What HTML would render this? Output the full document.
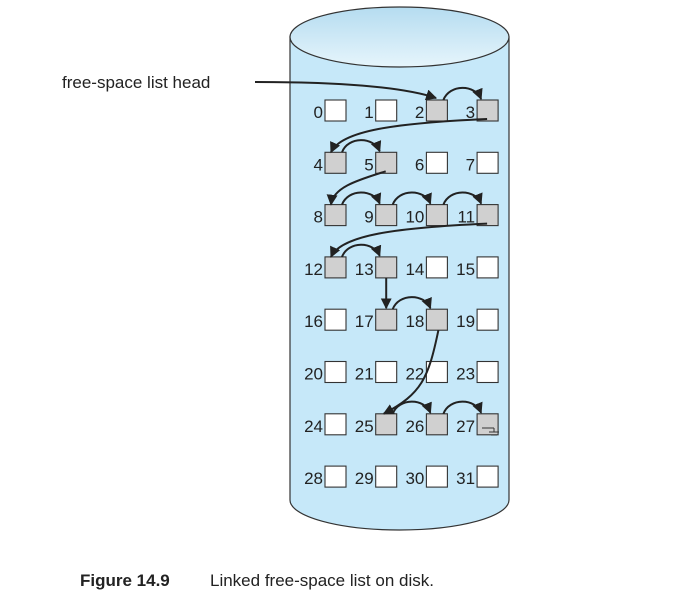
<!DOCTYPE html>
<html><head><meta charset="utf-8"><style>
body{margin:0;background:#fff;width:684px;height:613px;overflow:hidden}
svg{display:block}
text{font-family:"Liberation Sans",sans-serif}
</style></head><body>
<svg id="fig" width="684" height="613" viewBox="0 0 684 613">
<defs>
<linearGradient id="topg" x1="0" y1="0" x2="0" y2="1"><stop offset="0" stop-color="#b5dcf0"/><stop offset="1" stop-color="#e6f5fc"/></linearGradient>
<marker id="ah" viewBox="0 0 10 10" refX="9" refY="5" markerWidth="5.5" markerHeight="5.5" orient="auto-start-reverse"><path d="M0,0 L10,5 L0,10 z" fill="#222"/></marker>
</defs>
<g>
<path d="M290,37 L290,500 A109.5,30 0 0 0 509,500 L509,37 Z" fill="#c6e8f9" stroke="#333" stroke-width="1.2"/>
<ellipse cx="399.5" cy="37" rx="109.5" ry="30" fill="url(#topg)" stroke="#333" stroke-width="1.2"/>
</g>
<g id="blocks"></g>
<g id="links"></g>
<text x="62" y="88" font-size="17" fill="#222">free-space list head</text>
<path d="M255,82 C330,82 400,86 436,98" fill="none" stroke="#222" stroke-width="2" marker-end="url(#ah)"/>
<path d="M482,428 L494,428 M494,428 L494,432 M489,432 L499,432 M491,435 L497,435" stroke="#333" stroke-width="1" fill="none"/>
<text x="80" y="586" font-size="17" font-weight="bold" fill="#222">Figure 14.9</text>
<text x="210" y="586" font-size="17" fill="#222">Linked free-space list on disk.</text>
</svg>
<script>
const blockCount = 32;
const freeBlocks = [2,3,4,5,8,9,10,11,12,13,17,18,25,26,27];
const links = [[2,3],[3,4],[4,5],[5,8],[8,9],[9,10],[10,11],[11,12],[12,13],[13,17],[17,18],[18,25],[25,26],[26,27]];
const NS="http://www.w3.org/2000/svg";
function bx(i){return 325+(i%4)*50.7;}
function by(i){return 100+Math.floor(i/4)*52.3;}
const bw=21;
const gB=document.getElementById('blocks');
for(let i=0;i<blockCount;i++){
  const r=document.createElementNS(NS,'rect');
  r.setAttribute('x',bx(i));r.setAttribute('y',by(i));r.setAttribute('width',bw);r.setAttribute('height',bw);
  r.setAttribute('fill',freeBlocks.includes(i)?'#d0d0d0':'#fff');r.setAttribute('stroke','#333');r.setAttribute('stroke-width','1.1');
  
  
  gB.appendChild(r);
  const t=document.createElementNS(NS,'text');
  t.setAttribute('x',bx(i)-2);t.setAttribute('y',by(i)+18);t.setAttribute('text-anchor','end');t.setAttribute('font-size','17');t.setAttribute('fill','#222');
  t.textContent=i;
  
  
  gB.appendChild(t);
}
const gL=document.getElementById('links');
links.forEach(([a,b])=>{
  let d;
  const ra=Math.floor(a/4),rb=Math.floor(b/4);
  if(ra===rb){
    const x1=bx(a)+bw-4,y1=by(a),x2=bx(b)+4,y2=by(b);
    d=`M${x1},${y1} C${x1+6},${y1-16} ${x2-6},${y2-16} ${x2},${y2-1}`;
  }else if(bx(a)===bx(b)){
    const x=bx(a)+bw/2;
    d=`M${x},${by(a)+bw} L${x},${by(b)-1}`;
  }else if(bx(a)-bx(b)>100){
    const x1=bx(a)+10,y1=by(a)+bw-2,x2=bx(b)+6,y2=by(b);
    d=`M${x1},${y1} C${x1-90},${y1+4} ${x2+10},${y2-22} ${x2},${y2}`;
  }else if(bx(a)>bx(b)){
    const x1=bx(a)+10,y1=by(a)+bw-2,x2=bx(b)+6,y2=by(b);
    if(rb-ra===1 && bx(a)-bx(b)<60 && a%4===1 && b%4===0 && ra===1){
      d=`M${x1},${y1} C${x1-25},${y1+8} ${x2+2},${y2-18} ${x2},${y2}`;
    }else{
      d=`M${x1+2},${y1+2} C${x1-8},${y1+50} ${x2+40},${y2-20} ${x2+2},${y2}`;
    }
  }else{
    const x1=bx(a)+bw/2,y1=by(a)+bw,x2=bx(b)+6,y2=by(b);
    d=`M${x1},${y1} C${x1+10},${y1+40} ${x2+30},${y2-15} ${x2},${y2}`;
  }
  const p=document.createElementNS(NS,'path');
  p.setAttribute('d',d);p.setAttribute('fill','none');p.setAttribute('stroke','#222');p.setAttribute('stroke-width','2');p.setAttribute('marker-end','url(#ah)');
  
  
  gL.appendChild(p);
});
</script>
</body></html>
